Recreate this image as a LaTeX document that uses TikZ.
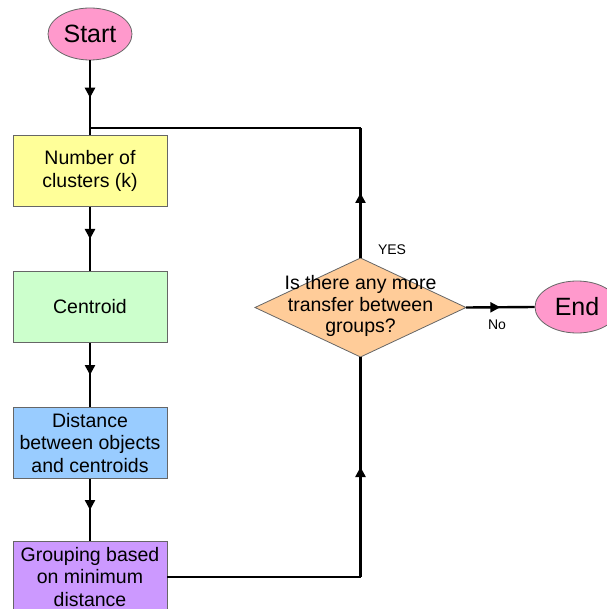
\documentclass[tikz,border=0pt]{standalone}
\usepackage{fontspec}
\setmainfont{Liberation Sans}
\usetikzlibrary{arrows.meta,decorations.markings,shapes.geometric}
\tikzset{
  box/.style={draw=black!60, line width=0.8pt, minimum width=154pt, minimum height=71pt, align=center, inner sep=2pt, font=\fontsize{19.5}{22.5}\selectfont},
  term/.style={ellipse, draw=black!60, line width=0.8pt, fill=termpink, minimum width=84pt, minimum height=52pt, inner sep=0pt, font=\fontsize{25}{28}\selectfont},
  conn/.style={line width=2.4pt, black},
  midarrow/.style={conn, postaction={decorate}, decoration={markings, mark=at position 0.5 with {\arrow{Triangle[length=10pt,width=10pt]}}}},
  lbl/.style={font=\fontsize{14}{16}\selectfont, inner sep=0pt}
}
\definecolor{termpink}{HTML}{FF99CC}
\definecolor{byellow}{HTML}{FFFF99}
\definecolor{bgreen}{HTML}{CCFFCC}
\definecolor{bblue}{HTML}{99CCFF}
\definecolor{bpurple}{HTML}{CC99FF}
\definecolor{borange}{HTML}{FFCC99}
\begin{document}
\begin{tikzpicture}[x=1pt,y=-1pt]
\useasboundingbox (0,0) rectangle (606,609);
\node[term] (start) at (90,34) {Start};
\node[box, fill=byellow] (k) at (90,171) {Number of\\clusters (k)};
\node[box, fill=bgreen] (cen) at (90,307) {Centroid};
\node[box, fill=bblue] (dist) at (90,443) {Distance\\between objects\\and centroids};
\node[box, fill=bpurple] (grp) at (90,577) {Grouping based\\on minimum\\distance};
% decision diamond
\coordinate (dN) at (360.5,258);
\coordinate (dS) at (360.5,357);
\coordinate (dW) at (255,307.5);
\coordinate (dE) at (466,307.5);
\fill[borange] (dN) -- (dE) -- (dS) -- (dW) -- cycle;
\draw[black!60, line width=0.8pt] (dN) -- (dE) -- (dS) -- (dW) -- cycle;
\node[align=center, font=\fontsize{19.5}{21.5}\selectfont, inner sep=0pt] (dia) at (360.5,306) {Is there any more\\transfer between\\groups?};
\node[term] (end) at (577,307) {End};
% connectors
\coordinate (j) at (90,128);
\coordinate (c1) at (360.5,128);
\coordinate (c2) at (360.5,577);
\draw[midarrow] (start.south) -- (k.north);
\draw[midarrow] (k.south) -- (cen.north);
\draw[midarrow] (cen.south) -- (dist.north);
\draw[midarrow] (dist.south) -- (grp.north);
\draw[conn] (grp.east) -- (c2);
\draw[midarrow] (c2) -- (dS);
\draw[midarrow] (dN) -- (c1);
\draw[conn] (c1) -- (j);
\draw[midarrow] (dE) -- (end.west);
\node[lbl] (yes) at (392,250) {YES};
\node[lbl] (no) at (497,325) {No};
\end{tikzpicture}
\end{document}
